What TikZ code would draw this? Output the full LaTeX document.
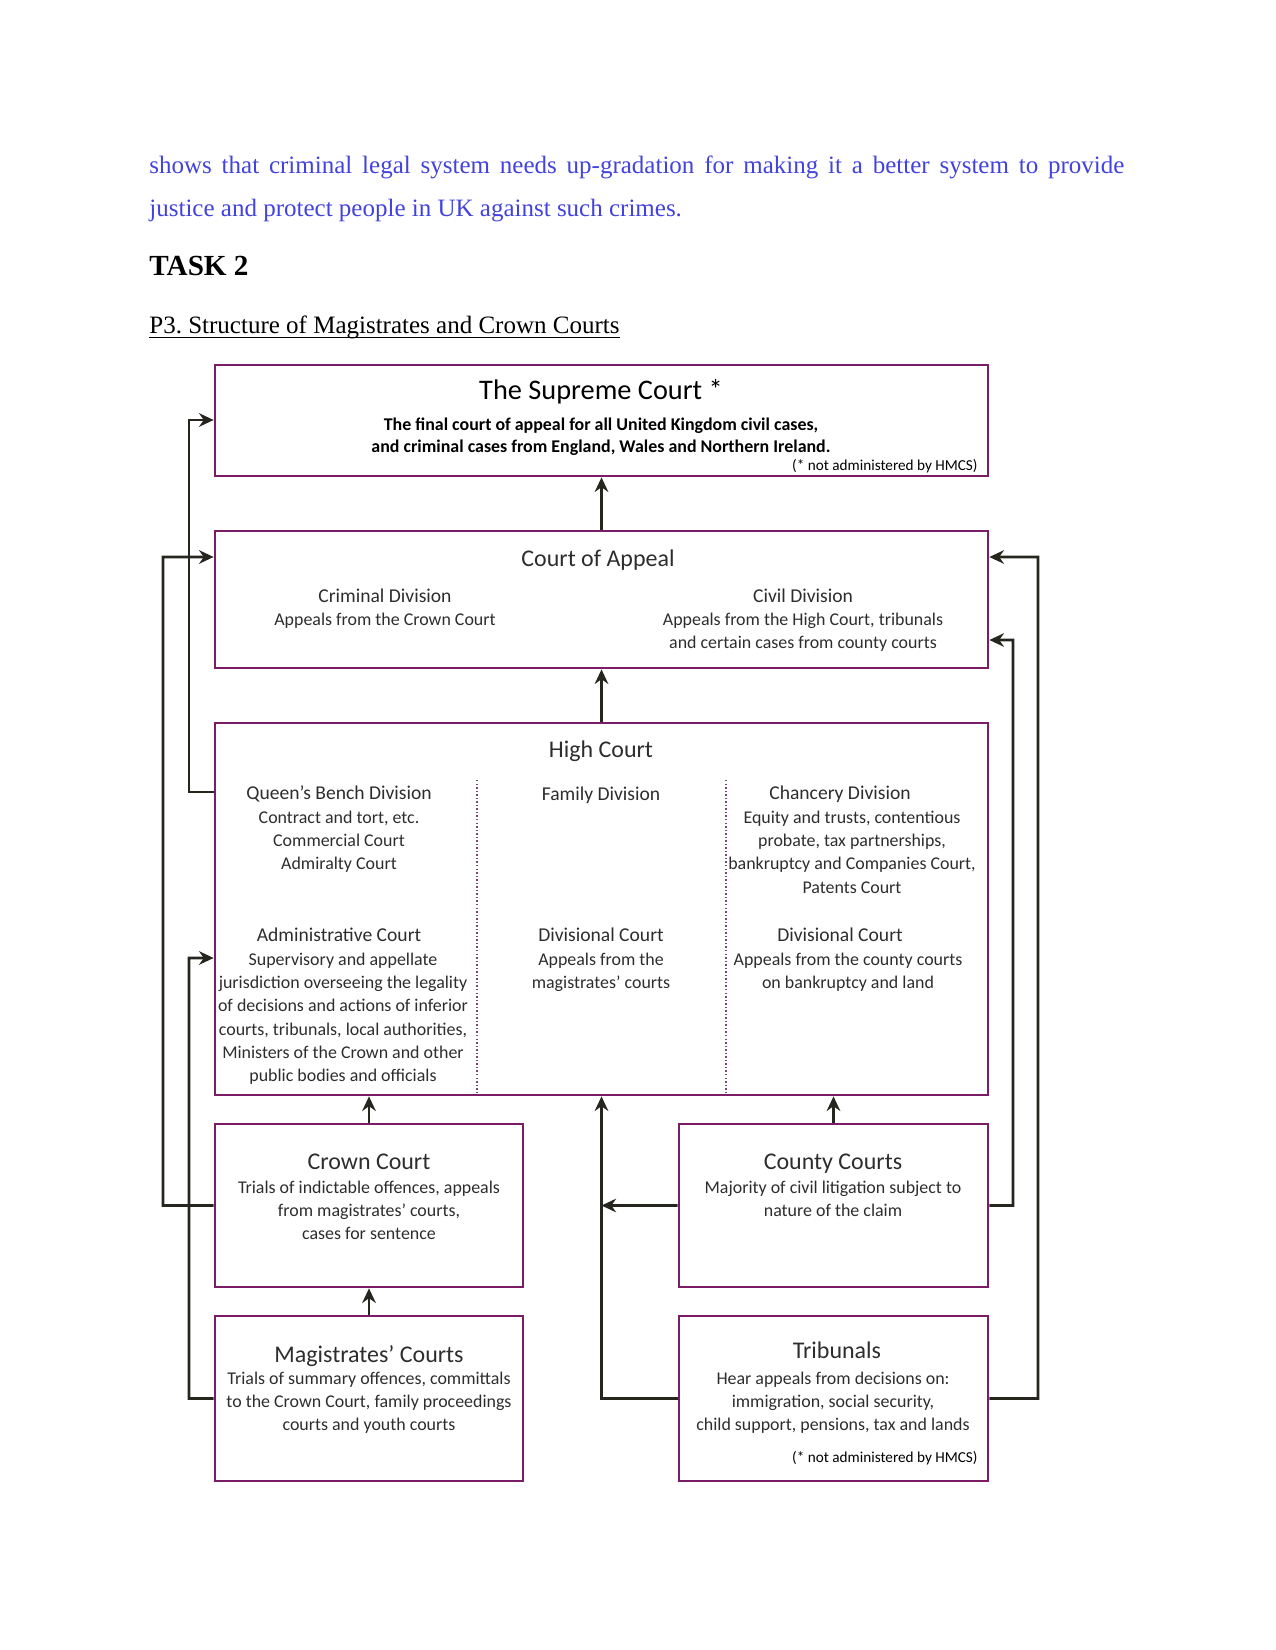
\documentclass[tikz,border=0pt]{standalone}
\usepackage{fontspec}
\setmainfont{Liberation Serif}
\newfontfamily\dfont{Carlito}
\usetikzlibrary{arrows.meta,fit}
\definecolor{boxpurple}{RGB}{122,28,102}
\definecolor{linkdark}{RGB}{38,38,30}
\definecolor{bodyblue}{RGB}{66,66,222}
\definecolor{txtgray}{RGB}{45,45,45}
\newcommand{\mlines}[1]{\begin{tabular}[t]{@{}c@{}}#1\end{tabular}}
\tikzset{
  cbox/.style={draw=boxpurple, line width=1.3pt, inner sep=0pt},
  arr/.style={draw=linkdark, line width=1.4pt, -{Stealth[length=7pt,width=6.5pt]}},
  divline/.style={draw=boxpurple!60!gray, line width=0.7pt, densely dotted},
  suptitle/.style={font=\dfont\fontsize{13.6}{16}\selectfont, text=black, inner sep=0pt, anchor=base},
  suptext/.style={font=\dfont\bfseries\fontsize{8.6}{10.6}\selectfont, text=black, inner sep=0pt, anchor=base},
  notetext/.style={font=\dfont\fontsize{7.3}{8}\selectfont, text=black, inner sep=0pt, anchor=base east},
  btitle/.style={font=\dfont\fontsize{11.5}{13}\selectfont, text=txtgray, inner sep=0pt, anchor=base},
  dtitle/.style={font=\dfont\fontsize{9.4}{11}\selectfont, text=txtgray, inner sep=0pt, anchor=base},
  btext/.style={font=\dfont\fontsize{8.6}{11.2}\selectfont, text=txtgray, inner sep=0pt, anchor=base},
  para/.style={font=\fontsize{12}{14}\selectfont, text=bodyblue, inner sep=0pt, anchor=base west},
}
\frenchspacing
\begin{document}
\begin{tikzpicture}[x=0.48pt,y=-0.48pt]
\useasboundingbox (0,0) rectangle (1275,1650);
% ---- page text
\node[para] (p1) at (149,174) {\makebox[468pt][s]{shows that criminal legal system needs up-gradation for making it a better system to provide}};
\node[para] (p2) at (149,217) {justice and protect people in UK against such crimes.};
\node[font=\bfseries\fontsize{14}{16}\selectfont, inner sep=0pt, anchor=base west] (task) at (149,276) {TASK 2};
\node[font=\fontsize{12}{14}\selectfont, inner sep=0pt, anchor=base west] (head) at (149,334) {P3. Structure of Magistrates and Crown Courts};
\draw[line width=0.55pt] ([yshift=-1.6pt]head.base west) -- ([yshift=-1.6pt]head.base east);
% ---- boxes
\node[cbox, fit={(215,365) (988,476)}] (sup) {};
\node[cbox, fit={(215,531) (988,668)}] (coa) {};
\node[cbox, fit={(215,723) (988,1095)}] (hc) {};
\node[cbox, fit={(215,1124) (523,1287)}] (crown) {};
\node[cbox, fit={(679,1124) (988,1287)}] (county) {};
\node[cbox, fit={(215,1316) (523,1481)}] (mag) {};
\node[cbox, fit={(679,1316) (988,1481)}] (trib) {};
% dividers in High Court
\draw[divline] (477,780) -- (477,1095);
\draw[divline] (726,780) -- (726,1095);
% ---- Supreme Court text
\node[suptitle] (supT) at (601,400) {The Supreme Court *};
\node[suptext] (supB) at (601,430) {\mlines{The final court of appeal for all United Kingdom civil cases,\\and criminal cases from England, Wales and Northern Ireland.}};
\node[notetext] (supN) at (978,471) {(* not administered by HMCS)};
% ---- Court of Appeal
\node[btitle] (coaT) at (598,566) {Court of Appeal};
\node[dtitle] (crimT) at (385,602) {Criminal Division};
\node[btext] (crimB) at (385,625) {Appeals from the Crown Court};
\node[dtitle] (civT) at (803,602) {Civil Division};
\node[btext] (civB) at (803,625) {\mlines{Appeals from the High Court, tribunals\\and certain cases from county courts}};
% ---- High Court
\node[btitle] (hcT) at (601,757) {High Court};
\node[dtitle] (qbT) at (339,799) {Queen’s Bench Division};
\node[btext] (qbB) at (339,823) {\mlines{Contract and tort, etc.\\Commercial Court\\Admiralty Court}};
\node[dtitle] (famT) at (601,800) {Family Division};
\node[dtitle] (chT) at (840,799) {Chancery Division};
\node[btext] (chB) at (852,823) {\mlines{Equity and trusts, contentious\\probate, tax partnerships,\\bankruptcy and Companies Court,\\Patents Court}};
\node[dtitle] (admT) at (339,941) {Administrative Court};
\node[btext] (admB) at (343,965) {\mlines{Supervisory and appellate\\jurisdiction overseeing the legality\\of decisions and actions of inferior\\courts, tribunals, local authorities,\\Ministers of the Crown and other\\public bodies and officials}};
\node[dtitle] (dvmT) at (601,941) {Divisional Court};
\node[btext] (dvmB) at (601,965) {\mlines{Appeals from the\\magistrates’ courts}};
\node[dtitle] (dvrT) at (840,941) {Divisional Court};
\node[btext] (dvrB) at (848,965) {\mlines{Appeals from the county courts\\on bankruptcy and land}};
% ---- lower boxes
\node[btitle] (crT) at (369,1169) {Crown Court};
\node[btext] (crB) at (369,1193) {\mlines{Trials of indictable offences, appeals\\from magistrates’ courts,\\cases for sentence}};
\node[btitle] (cuT) at (833,1169) {County Courts};
\node[btext] (cuB) at (833,1193) {\mlines{Majority of civil litigation subject to\\nature of the claim}};
\node[btitle] (mgT) at (369,1362) {Magistrates’ Courts};
\node[btext] (mgB) at (369,1384) {\mlines{Trials of summary offences, committals\\to the Crown Court, family proceedings\\courts and youth courts}};
\node[btitle] (trT) at (837,1358) {Tribunals};
\node[btext] (trB) at (833,1384) {\mlines{Hear appeals from decisions on:\\immigration, social security,\\child support, pensions, tax and lands}};
\node[notetext] (trN) at (978,1462) {(* not administered by HMCS)};
% ---- connectors
\draw[arr] (coa.north) -- (sup.south);
\draw[arr] (hc.north) -- (coa.south);
\draw[arr] (crown.north) -- (crown.north |- hc.south);
\draw[arr] (mag.north) -- (crown.south);
\draw[arr] (county.north) -- (county.north |- hc.south);
\draw[arr] (trib.west) -| (hc.south);
\coordinate (cj) at (601.5,1205.5);
\draw[arr] (county.west) -- (cj);
\draw[arr] (hc.west |- 0,792) -- (189,792) |- (sup.west |- 0,420);
\draw[arr] (crown.west) -- (163,1205.5) |- (coa.west |- 0,557);
\draw[arr] (mag.west) -- (189,1398.5) |- (hc.west |- 0,958);
\draw[arr] (trib.east) -- (1038,1398.5) |- (coa.east |- 0,557);
\draw[arr] (county.east) -- (1013,1205.5) |- (coa.east |- 0,640);
\end{tikzpicture}
\end{document}
